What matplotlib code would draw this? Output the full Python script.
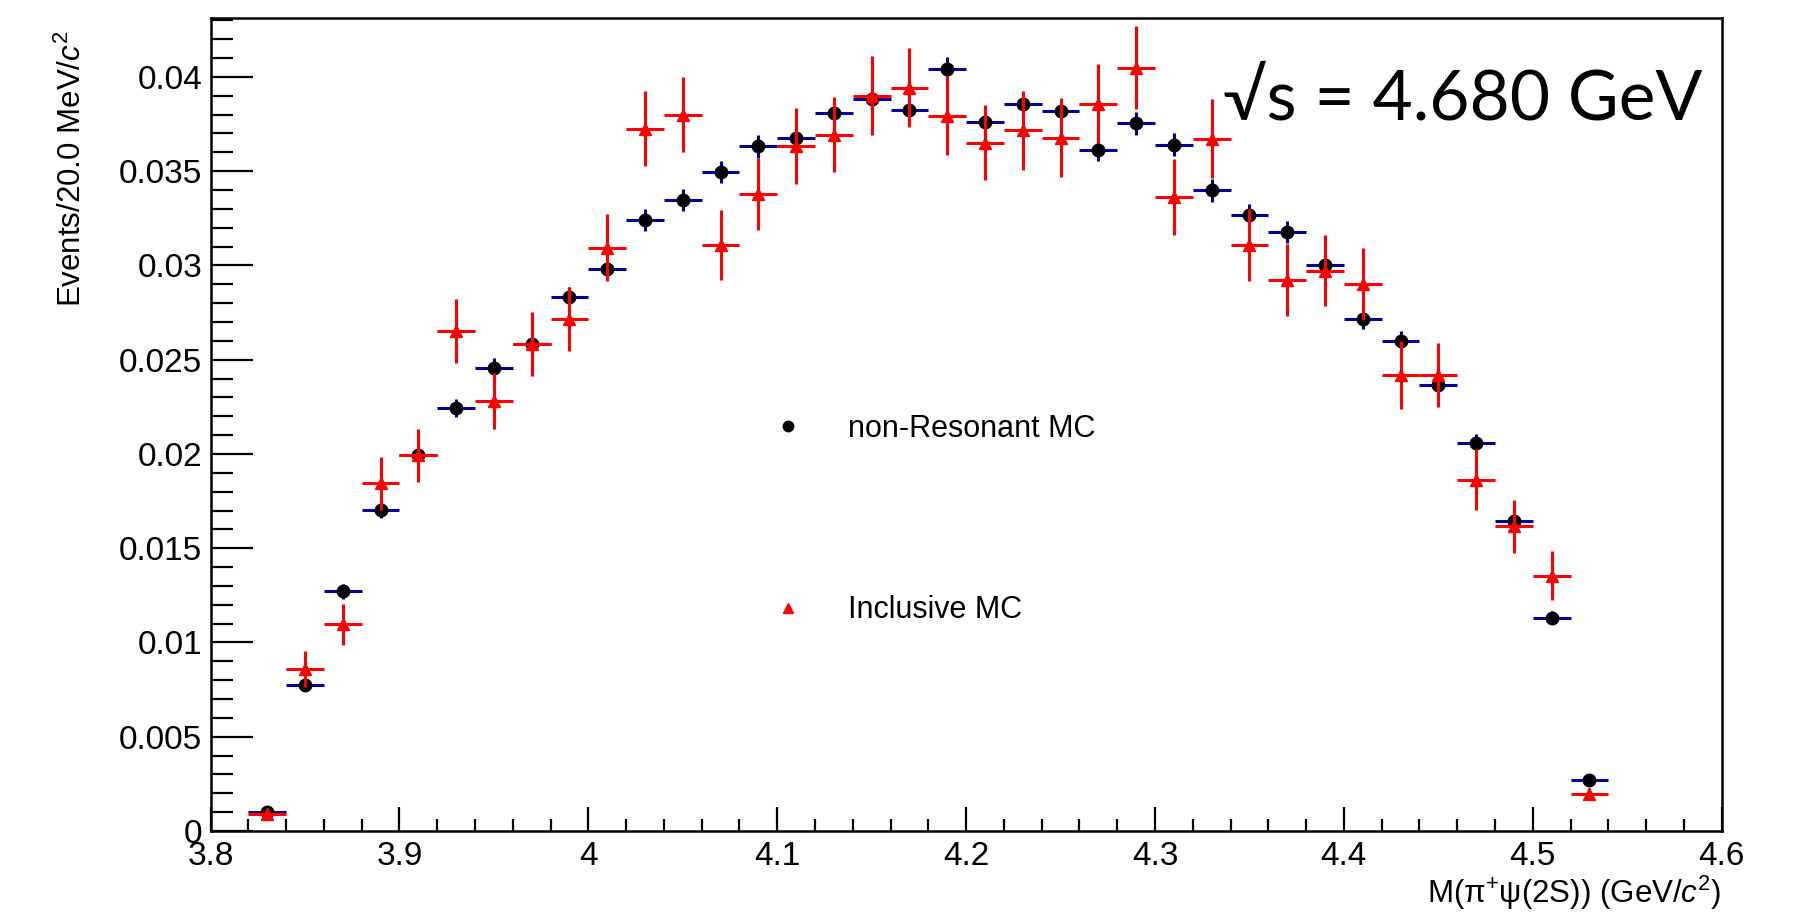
import numpy as np
import matplotlib
matplotlib.use("Agg")
import matplotlib.pyplot as plt
from matplotlib.lines import Line2D
from matplotlib.ticker import MultipleLocator

plt.rcParams['font.family'] = ['Liberation Sans', 'DejaVu Sans']
plt.rcParams['mathtext.fontset'] = 'custom'
plt.rcParams['mathtext.rm'] = 'Liberation Sans'
plt.rcParams['mathtext.it'] = 'Liberation Sans:italic'

# ---- data ----
bin_centers = [3.83, 3.85, 3.87, 3.89, 3.91, 3.93, 3.95, 3.97, 3.99, 4.01,
               4.03, 4.05, 4.07, 4.09, 4.11, 4.13, 4.15, 4.17, 4.19, 4.21,
               4.23, 4.25, 4.27, 4.29, 4.31, 4.33, 4.35, 4.37, 4.39, 4.41,
               4.43, 4.45, 4.47, 4.49, 4.51, 4.53]
bin_half_width = 0.01

nonres_vals = [0.00100, 0.00776, 0.01271, 0.01705, 0.01993, 0.02244, 0.02458, 0.02581,
               0.02833, 0.02982, 0.03240, 0.03346, 0.03496, 0.03633, 0.03677, 0.03807,
               0.03885, 0.03823, 0.04044, 0.03760, 0.03857, 0.03818, 0.03615, 0.03754,
               0.03641, 0.03398, 0.03269, 0.03178, 0.03004, 0.02714, 0.02600, 0.02364,
               0.02060, 0.01646, 0.01132, 0.00269]
nonres_errs = [0.00012, 0.00030, 0.00040, 0.00045, 0.00048, 0.00050, 0.00052, 0.00053,
               0.00055, 0.00056, 0.00058, 0.00059, 0.00060, 0.00061, 0.00061, 0.00062,
               0.00063, 0.00062, 0.00064, 0.00062, 0.00062, 0.00062, 0.00061, 0.00062,
               0.00061, 0.00059, 0.00058, 0.00057, 0.00056, 0.00053, 0.00052, 0.00049,
               0.00046, 0.00041, 0.00034, 0.00016]

incl_vals = [0.00092, 0.00861, 0.01096, 0.01844, 0.01993, 0.02654, 0.02281, 0.02581,
             0.02718, 0.03095, 0.03726, 0.03800, 0.03110, 0.03380, 0.03633, 0.03694,
             0.03901, 0.03943, 0.03795, 0.03652, 0.03716, 0.03677, 0.03857, 0.04048,
             0.03362, 0.03673, 0.03110, 0.02922, 0.02973, 0.02901, 0.02419, 0.02419,
             0.01864, 0.01616, 0.01353, 0.00198]
incl_errs = [0.00030, 0.00095, 0.00110, 0.00140, 0.00140, 0.00170, 0.00150, 0.00170,
             0.00170, 0.00180, 0.00200, 0.00200, 0.00185, 0.00190, 0.00200, 0.00200,
             0.00210, 0.00210, 0.00210, 0.00200, 0.00210, 0.00210, 0.00210, 0.00220,
             0.00200, 0.00210, 0.00190, 0.00190, 0.00190, 0.00190, 0.00180, 0.00170,
             0.00160, 0.00140, 0.00130, 0.00030]

legend_labels = ["non-Resonant MC", "Inclusive MC"]
energy_label = "\u221as = 4.680 GeV"

# ---- figure ----
fig = plt.figure(figsize=(18.14, 9.15), dpi=100)
ax = fig.add_axes([0.1161, 0.0918, 0.8330, 0.8880])

blue = '#00009a'
red = '#ff0000'
xerr = [bin_half_width] * len(bin_centers)

ax.errorbar(bin_centers, nonres_vals, xerr=xerr, yerr=nonres_errs, fmt='o',
            color='black', ecolor=blue, elinewidth=2.2, capsize=0,
            markersize=9, zorder=3)
ax.errorbar(bin_centers, incl_vals, xerr=xerr, yerr=incl_errs, fmt='^',
            color=red, ecolor=red, elinewidth=2.2, capsize=0,
            markersize=8, zorder=4)

ax.set_xlim(3.8, 4.6)
ax.set_ylim(0, 0.0431)

ax.xaxis.set_major_locator(MultipleLocator(0.1))
ax.xaxis.set_minor_locator(MultipleLocator(0.02))
ax.yaxis.set_major_locator(MultipleLocator(0.005))
ax.yaxis.set_minor_locator(MultipleLocator(0.001))

xt = [3.8, 3.9, 4.0, 4.1, 4.2, 4.3, 4.4, 4.5, 4.6]
ax.set_xticks(xt)
ax.set_xticklabels(['3.8', '3.9', '4', '4.1', '4.2', '4.3', '4.4', '4.5', '4.6'])
yt = [0, 0.005, 0.01, 0.015, 0.02, 0.025, 0.03, 0.035, 0.04]
ax.set_yticks(yt)
ax.set_yticklabels(['0', '0.005', '0.01', '0.015', '0.02', '0.025', '0.03', '0.035', '0.04'])

ax.tick_params(axis='y', which='major', direction='in', length=30, width=1.6,
               labelsize=24, pad=6, left=True, right=False)
ax.tick_params(axis='y', which='minor', direction='in', length=16, width=1.6,
               left=True, right=False)
ax.tick_params(axis='x', which='major', direction='in', length=17, width=1.6,
               labelsize=24, pad=7, bottom=True, top=False)
ax.tick_params(axis='x', which='minor', direction='in', length=9, width=1.6,
               bottom=True, top=False)
for s in ax.spines.values():
    s.set_linewidth(1.8)

ax.set_ylabel(r'Events/20.0 MeV/$\mathit{c}^{2}$', fontsize=22.5, loc='top')
ax.yaxis.set_label_coords(-0.081, 0.985)
ax.set_xlabel(r'M($\mathrm{\pi}^{+}\mathrm{\psi}$(2S)) (GeV/$\mathit{c}^{2}$)', fontsize=22.5, loc='right')
ax.xaxis.set_label_coords(1.0, -0.052)

ax.text(0.670, 0.876, energy_label, transform=ax.transAxes, fontsize=50,
        family=['Lato', 'DejaVu Sans'], ha='left', va='baseline')

handles = [Line2D([], [], marker='o', color='black', linestyle='none', markersize=7.5),
           Line2D([], [], marker='^', color=red, linestyle='none', markersize=7)]
leg = ax.legend(handles, legend_labels, loc='upper left', frameon=False,
                bbox_to_anchor=(0.362, 0.513), fontsize=22, labelspacing=4.95,
                handletextpad=0.95, handlelength=2.0, borderpad=0, borderaxespad=0)

fig.savefig('out.png', dpi=100)
